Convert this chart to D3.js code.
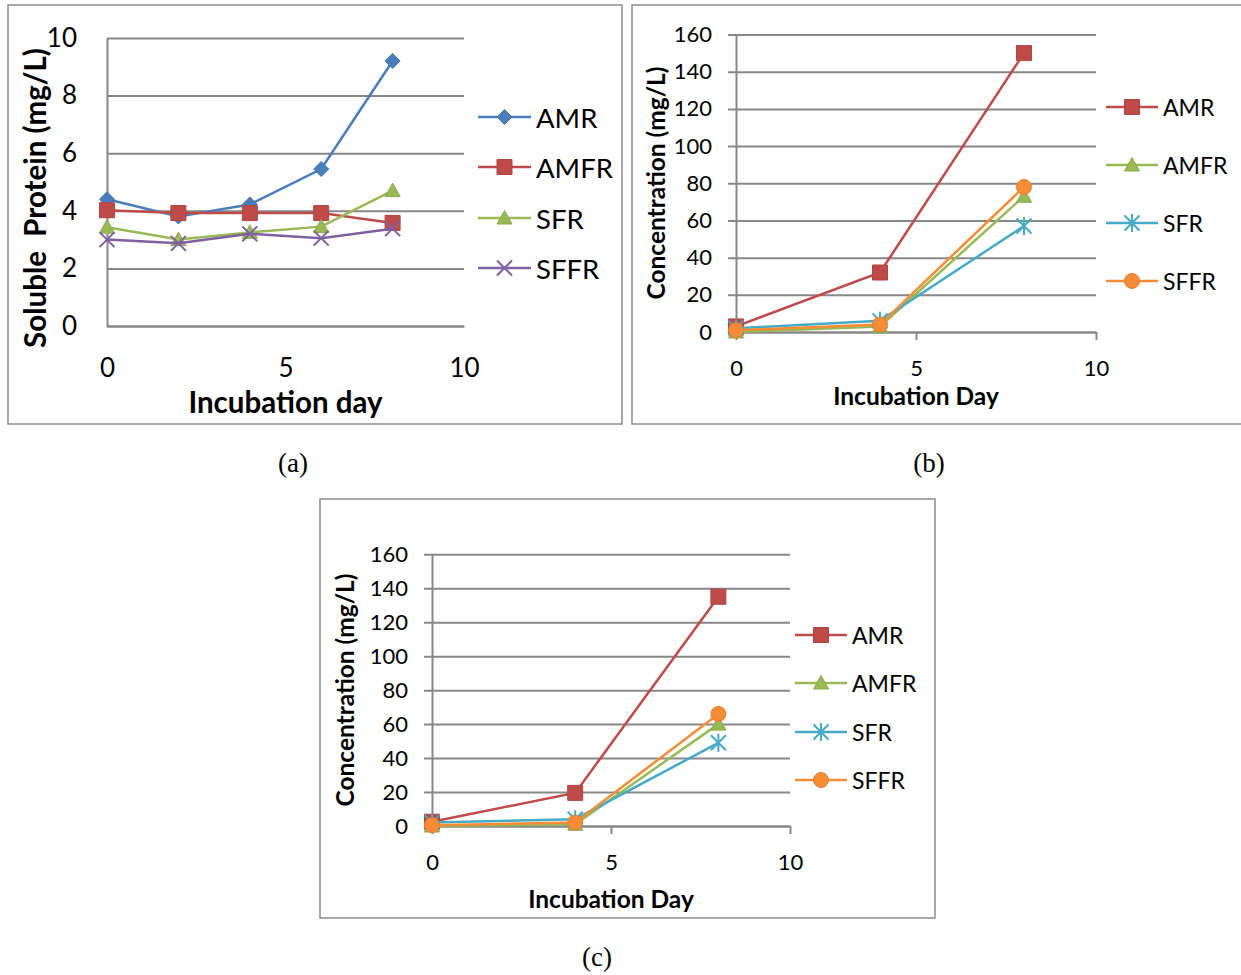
<!DOCTYPE html>
<html>
<head>
<meta charset="utf-8">
<script src="https://cdn.jsdelivr.net/npm/d3@7"></script>
<style>
  html, body { margin: 0; padding: 0; background: #fff; }
  svg { display: block; }
  text { font-family: Lato, "Open Sans", sans-serif; fill: #000; }
  .caption { font-family: "Liberation Serif", "Times New Roman", serif; }
</style>
</head>
<body>
<svg id="chart" width="1241" height="975"></svg>
<script>
// ---- Panel (a): soluble protein ----
const daysA = [0, 2, 4, 6, 8];
const amrA  = [4.4, 3.8, 4.22, 5.45, 9.2];
const amfrA = [4.02, 3.92, 3.92, 3.92, 3.58];
const sfrA  = [3.43, 3.0, 3.25, 3.45, 4.7];
const sffrA = [3.0, 2.87, 3.2, 3.05, 3.38];
const xTicksA = [0, 5, 10];
const yTicksA = [0, 2, 4, 6, 8, 10];

// ---- Panels (b) and (c): concentration ----
const daysBC = [0, 4, 8];
const amrB  = [3, 32, 150];
const amfrB = [0, 3, 73];
const sfrB  = [2, 6, 57];
const sffrB = [1, 4, 78];
const amrC  = [2.5, 19.5, 135];
const amfrC = [0, 1, 60];
const sfrC  = [2, 4, 49];
const sffrC = [0.5, 2, 66];
const xTicksBC = [0, 5, 10];
const yTicksBC = [0, 20, 40, 60, 80, 100, 120, 140, 160];

const seriesNames = ["AMR", "AMFR", "SFR", "SFFR"];

const svg = d3.select("#chart");
const GRID = "#878787";

// marker shapes
function markerPath(shape, s) {
  const h = s / 2;
  switch (shape) {
    case "diamond": return `M0,${-h}L${h},0L0,${h}L${-h},0Z`;
    case "square":  return `M${-h},${-h}H${h}V${h}H${-h}Z`;
    case "triangle": return `M0,${-h}L${h},${h * 0.8}L${-h},${h * 0.8}Z`;
    case "circle": return d3.symbol(d3.symbolCircle, Math.PI * h * h)();
    case "x": return `M${-h},${-h}L${h},${h}M${-h},${h}L${h},${-h}`;
    case "star": return `M${-h},${-h}L${h},${h}M${-h},${h}L${h},${-h}M0,${-h * 1.2}V${h * 1.2}`;
  }
}
const openShapes = new Set(["x", "star"]);

function drawMarker(g, shape, color, size, x, y) {
  const p = g.append("path")
    .attr("d", markerPath(shape, size))
    .attr("transform", `translate(${x},${y})`);
  if (openShapes.has(shape)) {
    p.attr("fill", "none").attr("stroke", color).attr("stroke-width", 2);
  } else {
    p.attr("fill", color).attr("stroke", d3.color(color).darker(0.25)).attr("stroke-width", 1);
  }
}

function panel(cfg) {
  // outer frame
  svg.append("rect")
    .attr("x", cfg.frame[0]).attr("y", cfg.frame[1])
    .attr("width", cfg.frame[2]).attr("height", cfg.frame[3])
    .attr("fill", "#fff").attr("stroke", "#8c8c8c").attr("stroke-width", 1.5);

  const x = d3.scaleLinear().domain(cfg.xDomain).range([cfg.left, cfg.right]);
  const y = d3.scaleLinear().domain(cfg.yDomain).range([cfg.bottom, cfg.top]);
  const w = cfg.right - cfg.left;

  // y axis with gridlines
  const gy = svg.append("g").attr("transform", `translate(${cfg.left},0)`)
    .call(d3.axisLeft(y).tickValues(cfg.yTicks).tickSize(-w).tickSizeOuter(0)
      .tickPadding(cfg.yPad).tickFormat(d3.format("d")));
  gy.select(".domain").attr("stroke", GRID).attr("stroke-width", 2);
  gy.selectAll(".tick line").attr("stroke", GRID).attr("stroke-width", 2)
    .attr("x1", -cfg.tickLen).attr("x2", w);
  gy.selectAll(".tick text").style("font-size", cfg.tickFont + "px")
    .style("font-family", "Lato").attr("fill", "#000");

  // x axis
  const gx = svg.append("g").attr("transform", `translate(0,${cfg.bottom})`)
    .call(d3.axisBottom(x).tickValues(cfg.xTicks).tickSize(cfg.tickLen).tickSizeOuter(0)
      .tickPadding(cfg.xPad).tickFormat(d3.format("d")));
  gx.select(".domain").attr("stroke", GRID).attr("stroke-width", 2);
  gx.selectAll(".tick line").attr("stroke", GRID).attr("stroke-width", 2);
  gx.selectAll(".tick text").style("font-size", cfg.tickFont + "px")
    .style("font-family", "Lato").attr("fill", "#000").attr("dy", "0");
  gx.selectAll(".tick text").attr("y", cfg.xLabelY - cfg.bottom).attr("dominant-baseline", "central");

  // axis titles
  svg.append("text")
    .attr("x", (cfg.left + cfg.right) / 2).attr("y", cfg.xTitleY)
    .attr("text-anchor", "middle").attr("dominant-baseline", "central")
    .style("font-weight", "bold").style("font-size", cfg.titleFont + "px")
    .text(cfg.xTitle);
  svg.append("text")
    .attr("transform", `translate(${cfg.yTitleX},${cfg.yTitleY}) rotate(-90)`)
    .attr("text-anchor", "middle").attr("dominant-baseline", "central")
    .style("font-weight", "bold").style("font-size", cfg.titleFont + "px")
    .style("white-space", "pre")
    .text(cfg.yTitle);

  // series
  const line = d3.line().x(d => x(d[0])).y(d => y(d[1]));
  const gs = svg.append("g");
  cfg.series.forEach(s => {
    const pts = cfg.days.map((d, i) => [d, s.values[i]]);
    gs.append("path").attr("d", line(pts)).attr("fill", "none")
      .attr("stroke", s.color).attr("stroke-width", 2.5);
    pts.forEach(p => drawMarker(gs, s.shape, s.color, cfg.markerSize, x(p[0]), y(p[1])));
  });

  // legend
  const gl = svg.append("g");
  cfg.series.forEach((s, i) => {
    const ly = cfg.legendY[i];
    gl.append("line").attr("x1", cfg.legendX0).attr("x2", cfg.legendX1)
      .attr("y1", ly).attr("y2", ly).attr("stroke", s.color).attr("stroke-width", 2.5);
    drawMarker(gl, s.shape, s.color, cfg.markerSize, (cfg.legendX0 + cfg.legendX1) / 2, ly);
    gl.append("text").attr("x", cfg.legendX1 + 5).attr("y", ly)
      .attr("dominant-baseline", "central").style("font-size", cfg.legendFont + "px")
      .text(s.name);
  });

  // caption
  svg.append("text").attr("class", "caption")
    .attr("x", cfg.caption[0]).attr("y", cfg.caption[1])
    .attr("text-anchor", "middle").attr("dominant-baseline", "central")
    .style("font-size", "27px").text(cfg.caption[2]);
}

const colorsA = ["#4A7EBB", "#BE4B48", "#98B954", "#7E5FA1"];
const colorsBC = ["#BE4B48", "#98B954", "#46AAC5", "#F68C36"];

panel({
  frame: [8, 5, 614, 419],
  left: 107, right: 464, top: 38, bottom: 326,
  xDomain: [0, 10], yDomain: [0, 10],
  xTicks: xTicksA, yTicks: yTicksA, tickLen: 0,
  yPad: 30, xPad: 0, xLabelY: 367, tickFont: 26,
  xTitle: "Incubation day", xTitleY: 401,
  yTitle: "Soluble  Protein (mg/L)", yTitleX: 34, yTitleY: 198,
  titleFont: 29.5,
  days: daysA,
  series: [
    { name: seriesNames[0], values: amrA,  color: colorsA[0], shape: "diamond" },
    { name: seriesNames[1], values: amfrA, color: colorsA[1], shape: "square" },
    { name: seriesNames[2], values: sfrA,  color: colorsA[2], shape: "triangle" },
    { name: seriesNames[3], values: sffrA, color: colorsA[3], shape: "x" }
  ],
  markerSize: 15,
  legendX0: 478, legendX1: 531, legendY: [117, 167, 218, 268], legendFont: 27.5,
  caption: [293, 463, "(a)"]
});

panel({
  frame: [632, 5, 620, 419],
  left: 736, right: 1096, top: 34.5, bottom: 332,
  xDomain: [0, 10], yDomain: [0, 160],
  xTicks: xTicksBC, yTicks: yTicksBC, tickLen: 8,
  yPad: 24, xPad: 0, xLabelY: 367, tickFont: 22,
  xTitle: "Incubation Day", xTitleY: 395,
  yTitle: "Concentration (mg/L)", yTitleX: 655, yTitleY: 183,
  titleFont: 24.5,
  days: daysBC,
  series: [
    { name: seriesNames[0], values: amrB,  color: colorsBC[0], shape: "square" },
    { name: seriesNames[1], values: amfrB, color: colorsBC[1], shape: "triangle" },
    { name: seriesNames[2], values: sfrB,  color: colorsBC[2], shape: "star" },
    { name: seriesNames[3], values: sffrB, color: colorsBC[3], shape: "circle" }
  ],
  markerSize: 15,
  legendX0: 1106, legendX1: 1158, legendY: [107, 165, 223, 281], legendFont: 23,
  caption: [929, 463, "(b)"]
});

panel({
  frame: [320, 499, 615, 419],
  left: 432, right: 790, top: 554.3, bottom: 826,
  xDomain: [0, 10], yDomain: [0, 160],
  xTicks: xTicksBC, yTicks: yTicksBC, tickLen: 8,
  yPad: 24, xPad: 0, xLabelY: 861, tickFont: 22,
  xTitle: "Incubation Day", xTitleY: 898,
  yTitle: "Concentration (mg/L)", yTitleX: 344, yTitleY: 690,
  titleFont: 24.5,
  days: daysBC,
  series: [
    { name: seriesNames[0], values: amrC,  color: colorsBC[0], shape: "square" },
    { name: seriesNames[1], values: amfrC, color: colorsBC[1], shape: "triangle" },
    { name: seriesNames[2], values: sfrC,  color: colorsBC[2], shape: "star" },
    { name: seriesNames[3], values: sffrC, color: colorsBC[3], shape: "circle" }
  ],
  markerSize: 15,
  legendX0: 795, legendX1: 847, legendY: [635, 683, 732, 780], legendFont: 23,
  caption: [597, 957, "(c)"]
});
</script>
</body>
</html>
